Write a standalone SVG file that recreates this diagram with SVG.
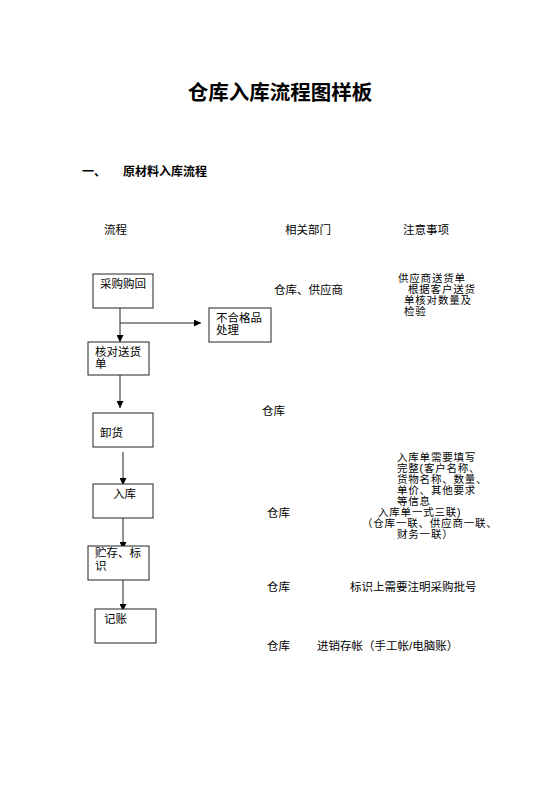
<svg xmlns="http://www.w3.org/2000/svg" width="560" height="792" viewBox="0 0 560 792">
<style>
text{font-family:"Liberation Sans","Noto Sans CJK SC",sans-serif;font-size:11.5px;fill:#000}
.t{font-size:20.5px;font-weight:bold}
.h{font-size:12px;font-weight:bold}
.n{font-size:10.5px;letter-spacing:0.8px}
.box{fill:#fff;stroke:#222;stroke-width:1}
.ln{stroke:#222;stroke-width:1;fill:none}
</style>
<defs>
<marker id="a" viewBox="0 0 10 10" refX="10" refY="5" markerWidth="7" markerHeight="7" markerUnits="userSpaceOnUse" orient="auto">
<path d="M0,0 L10,5 L0,10 z" fill="#000"/>
</marker>
</defs>
<rect width="560" height="792" fill="#fff"/>
<text class="t" x="280" y="100" text-anchor="middle">仓库入库流程图样板</text>
<text class="h" x="82" y="176">一、</text>
<text class="h" x="123" y="176">原材料入库流程</text>
<text x="104" y="234">流程</text>
<text x="285" y="234">相关部门</text>
<text x="403" y="234">注意事项</text>

<g id="connectors">
<line class="ln" x1="120" y1="308" x2="120" y2="342" marker-end="url(#a)"/>
<line class="ln" x1="120" y1="323" x2="201" y2="323" marker-end="url(#a)"/>
<line class="ln" x1="120" y1="375" x2="120" y2="408" marker-end="url(#a)"/>
<line class="ln" x1="123" y1="452" x2="123" y2="485" marker-end="url(#a)"/>
<line class="ln" x1="123" y1="518" x2="123" y2="549" marker-end="url(#a)"/>
<line class="ln" x1="123" y1="580" x2="123" y2="611" marker-end="url(#a)"/>
</g>

<g id="n1"><rect class="box" x="93" y="274" width="60" height="34"/><text x="100" y="288">采购购回</text></g>
<g id="n2"><rect class="box" x="209" y="308" width="62" height="34"/><text x="216" y="322">不合格品</text><text x="216" y="334">处理</text></g>
<g id="n3"><rect class="box" x="88" y="342" width="61" height="33"/><text x="95" y="356">核对送货</text><text x="95" y="368">单</text></g>
<g id="n4"><rect class="box" x="93" y="413" width="60" height="34"/><text x="100" y="437">卸货</text></g>
<g id="n5"><rect class="box" x="93" y="484" width="60" height="34"/><text x="113" y="498">入库</text></g>
<g id="n6"><rect class="box" x="88" y="546" width="61" height="34"/><text x="95" y="557">贮存、标</text><text x="95" y="570">识</text></g>
<g id="n7"><rect class="box" x="95" y="609" width="61" height="34"/><text x="104" y="623">记账</text></g>

<text x="274" y="294">仓库、供应商</text>
<text class="n" x="398" y="282">供应商送货单</text>
<text class="n" x="408" y="293">根据客户送货</text>
<text class="n" x="404" y="304">单核对数量及</text>
<text class="n" x="404" y="315">检验</text>

<text x="262" y="415">仓库</text>

<text class="n" x="397" y="461">入库单需要填写</text>
<text class="n" x="397" y="472">完整(客户名称、</text>
<text class="n" x="397" y="483">货物名称、数量、</text>
<text class="n" x="397" y="494">单价、其他要求</text>
<text class="n" x="397" y="505">等信息</text>
<text x="267" y="517">仓库</text>
<text class="n" x="378" y="516">入库单一式三联)</text>
<text class="n" x="362" y="527">（仓库一联、供应商一联、</text>
<text class="n" x="397" y="538">财务一联）</text>

<text x="267" y="591">仓库</text>
<text x="350" y="591">标识上需要注明采购批号</text>

<text x="267" y="650">仓库</text>
<text x="317" y="650">进销存帐（手工帐/电脑账）</text>
</svg>
